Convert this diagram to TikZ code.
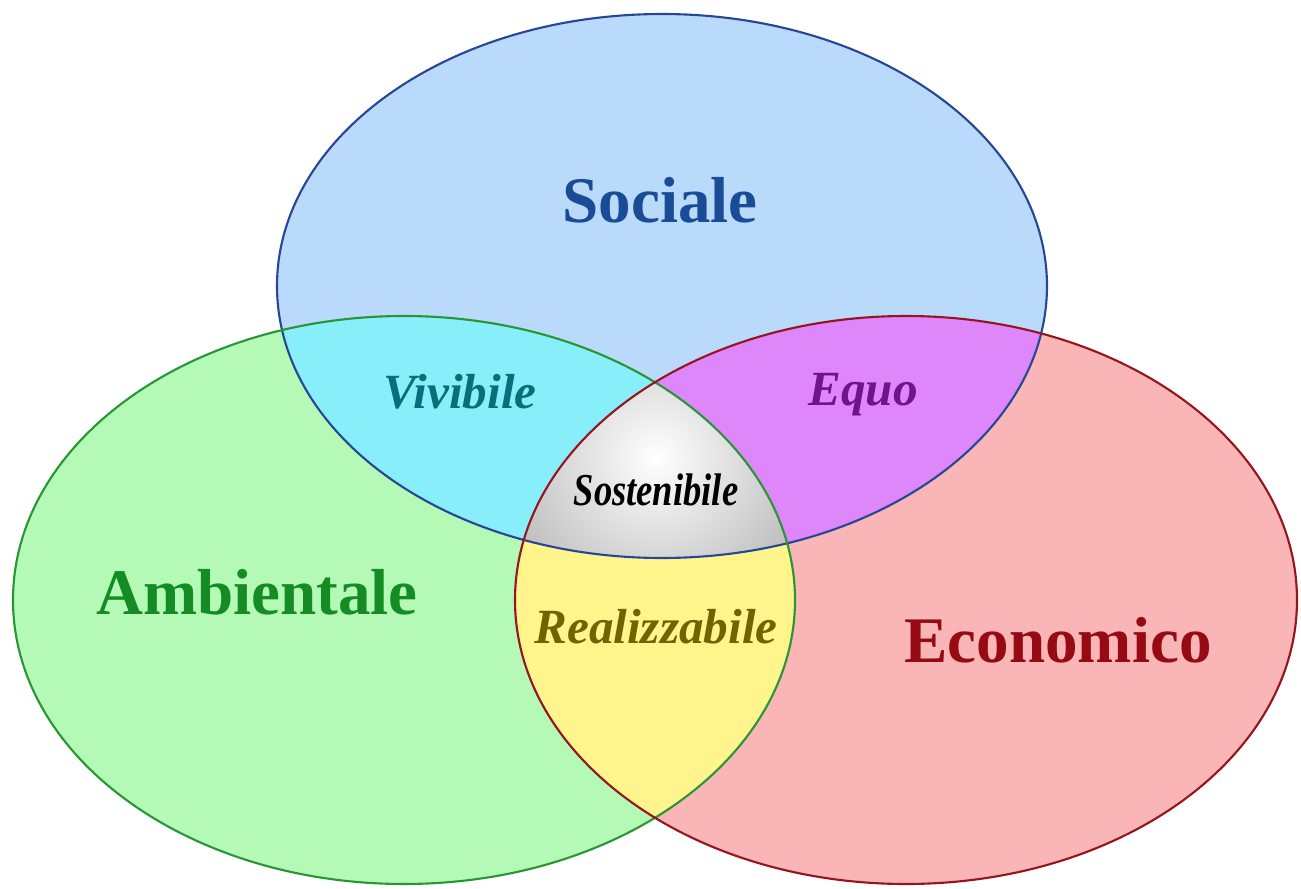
\documentclass[tikz,border=0pt]{standalone}
\usepackage{fontspec}
\setmainfont{Liberation Serif}
\definecolor{socfill}{RGB}{185,218,250}
\definecolor{ambfill}{RGB}{180,250,182}
\definecolor{ecofill}{RGB}{250,182,182}
\definecolor{vivfill}{RGB}{135,238,250}
\definecolor{equfill}{RGB}{222,135,250}
\definecolor{reafill}{RGB}{255,245,140}
\definecolor{socline}{RGB}{40,70,150}
\definecolor{ambline}{RGB}{40,150,50}
\definecolor{ecoline}{RGB}{150,20,30}
\definecolor{soctext}{RGB}{25,75,150}
\definecolor{ambtext}{RGB}{20,140,35}
\definecolor{ecotext}{RGB}{150,10,20}
\definecolor{vivtext}{RGB}{10,110,120}
\definecolor{equtext}{RGB}{110,20,140}
\definecolor{reatext}{RGB}{110,100,0}

\begin{document}
\begin{tikzpicture}[
	 biglabel/.style = {font = \fontsize{18.5}{20}\selectfont\bfseries},
	 midlabel/.style = {font = \fontsize{14}{16}\selectfont\bfseries\itshape}]
	 \useasboundingbox (0, 0) rectangle (13.01, 8.88);
	 
	 \fill[socfill] (6.62, 6.02) ellipse [x radius = 3.85, y radius = 2.72];
	 \fill[ambfill] (4.04, 2.88) ellipse [x radius = 3.91, y radius = 2.84];
	 \fill[ecofill] (9.06, 2.88) ellipse [x radius = 3.91, y radius = 2.84];
	 
	 \begin{scope}
	 \clip (6.62, 6.02) ellipse [x radius = 3.85, y radius = 2.72];
	 \fill[vivfill] (4.04, 2.88) ellipse [x radius = 3.91, y radius = 2.84];
	 \fill[equfill] (9.06, 2.88) ellipse [x radius = 3.91, y radius = 2.84];
	 \end{scope}
	 \begin{scope}
	 \clip (4.04, 2.88) ellipse [x radius = 3.91, y radius = 2.84];
	 \fill[reafill] (9.06, 2.88) ellipse [x radius = 3.91, y radius = 2.84];
	 \clip (9.06, 2.88) ellipse [x radius = 3.91, y radius = 2.84];
	 \clip (6.62, 6.02) ellipse [x radius = 3.85, y radius = 2.72];
	 \shade[inner color = white, outer color = gray!65] (6.56, 4.3) circle (2.0);
	 \end{scope}
	 
	 \draw[socline, line width = 0.6pt] (6.62, 6.02) ellipse [x radius = 3.85, y radius = 2.72];
	 \draw[ambline, line width = 0.6pt] (4.04, 2.88) ellipse [x radius = 3.91, y radius = 2.84];
	 \draw[ecoline, line width = 0.6pt] (9.06, 2.88) ellipse [x radius = 3.91, y radius = 2.84];
	 
	 \node[biglabel, soctext] (sociale) at (6.60, 6.88) {Sociale};
	 \node[biglabel, ambtext] (ambientale) at (2.57, 2.96) {Ambientale};
	 \node[biglabel, ecotext] (economico) at (10.58, 2.48) {Economico};
	 \node[midlabel, vivtext] (vivibile) at (4.60, 4.96) {Vivibile};
	 \node[midlabel, equtext] (equo) at (8.63, 4.93) {Equo};
	 \node[midlabel, reatext] (realizzabile) at (6.56, 2.61) {Realizzabile};
	 \node[midlabel, black, font = \fontsize{13}{15}\selectfont\bfseries\itshape, xscale = 0.8] (sostenibile) at (6.56, 3.98) {Sostenibile};
\end{tikzpicture}
\end{document}
